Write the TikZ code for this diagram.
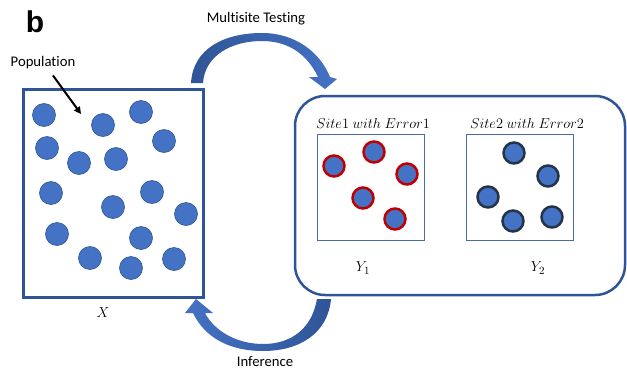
\documentclass[tikz,border=0pt]{standalone}
\usepackage{fontspec}
\setmainfont{Carlito}[Ligatures=NoCommon]
\usetikzlibrary{arrows.meta}
\definecolor{fillb}{HTML}{4472C4}
\definecolor{darkb}{HTML}{2F5597}
\definecolor{redb}{HTML}{C00000}
\definecolor{slate}{HTML}{243447}
\definecolor{thinb}{HTML}{4A6AAE}
\begin{document}
\begin{tikzpicture}[x=1pt,y=-1pt,
  dot/.style={circle,fill=fillb,draw=darkb,line width=0.6pt,minimum size=23pt,inner sep=0pt},
  reddot/.style={dot,draw=redb,line width=2.5pt,minimum size=21pt},
  slatedot/.style={dot,draw=slate,line width=2.5pt,minimum size=21pt},
  lbl/.style={font=\fontsize{14.7}{16}\selectfont,inner sep=0pt},
  mlbl/.style={font=\fontsize{15.5}{17}\selectfont,inner sep=0pt},
  bigarrow/.style={draw=none}]
\useasboundingbox (0,0) rectangle (627,370);
% label b
\node[font=\fontspec{Liberation Sans}\bfseries\fontsize{30}{31}\selectfont,inner sep=0pt] (blabel) at (35,22) {b};
% left box
\node[draw=darkb,line width=3pt,minimum width=180pt,minimum height=208pt,inner sep=0pt] (pop) at (113,193) {};
\foreach \i/\x/\y in {1/44/115,2/103/125,3/141/112,4/164/141,5/47/148,6/79/163,7/116/159,8/51/193,9/152/192,10/113/207,11/186/214,12/57/234,13/141/238,14/90/258,15/174/259,16/131/268}
  \node[dot] (p\i) at (\x,\y) {};
\node[lbl] (poplabel) at (43,63) {Population};
\coordinate (poptip) at (81,114);
\draw[line width=2pt,-{Triangle[length=7pt,width=7pt]}] (poplabel.south) ++(10,6) -- (poptip);
\node[mlbl,font=\fontsize{15}{17}\selectfont] (xlabel) at (103,313) {$X$};
% right rounded box
\node[draw=darkb,line width=2.5pt,rounded corners=30pt,minimum width=330pt,minimum height=199pt,inner sep=0pt] (sites) at (460,195.5) {};
\node[draw=thinb,line width=1pt,minimum width=107pt,minimum height=106pt,inner sep=0pt] (site1) at (370.5,187) {};
\node[draw=thinb,line width=1pt,minimum width=107pt,minimum height=106pt,inner sep=0pt] (site2) at (519.5,187) {};
\node[mlbl] (t1) at (373,123) {$Site1\ with\ Error1$};
\node[mlbl] (t2) at (527,123) {$Site2\ with\ Error2$};
\foreach \i/\x/\y in {1/334/166,2/374/152,3/407/174,4/363/198,5/395/219}
  \node[reddot] (r\i) at (\x,\y) {};
\foreach \i/\x/\y in {1/514/153,2/548/176,3/488/197,4/513/221,5/552/217}
  \node[slatedot] (s\i) at (\x,\y) {};
\node[mlbl,font=\fontsize{15}{17}\selectfont] (y1) at (363,268) {$Y_1$};
\node[mlbl,font=\fontsize{15}{17}\selectfont] (y2) at (538,268) {$Y_2$};
% top curved arrow
\shade[left color=darkb,right color=fillb]
  (191,83) .. controls (193,48) and (225,33) .. (262,33)
  .. controls (295,33) and (320,52) .. (330,77)
  -- (337,79) -- (325,89) -- (309,77) -- (318,77)
  .. controls (308,56) and (290,41) .. (262,41)
  .. controls (232,41) and (205,55) .. (203,83) -- cycle;
\node[lbl] (mt) at (256,19) {Multisite Testing};
% bottom curved arrow
\shade[left color=fillb,right color=darkb]
  (331,299) .. controls (328,333) and (300,351) .. (263,351)
  .. controls (230,351) and (205,338) .. (193,313)
  -- (185,313) -- (196,299) -- (213,313) -- (205,313)
  .. controls (215,332) and (238,344) .. (263,344)
  .. controls (292,344) and (312,328) .. (317,299) -- cycle;
\node[lbl] (inf) at (265,362) {Inference};
\end{tikzpicture}
\end{document}
